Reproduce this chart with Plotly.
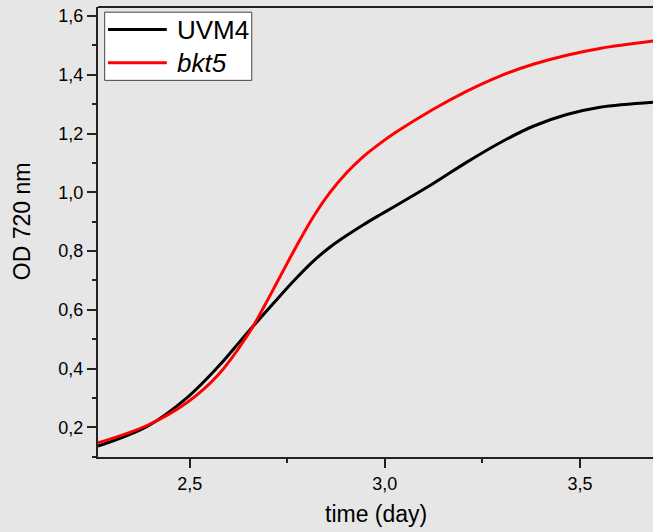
import plotly.graph_objects as go

# growth curves
time_uvm4 = [2.265, 2.392, 2.495, 2.572, 2.649, 2.721, 2.774, 2.816, 2.859, 2.902,
             2.944, 2.987, 3.030, 3.124, 3.209, 3.295, 3.380, 3.466, 3.551, 3.687]
od_uvm4 = [0.136, 0.204, 0.303, 0.405, 0.524, 0.632, 0.709, 0.765, 0.813, 0.853,
           0.889, 0.923, 0.956, 1.030, 1.102, 1.169, 1.225, 1.265, 1.290, 1.307]

time_bkt5 = [2.265, 2.392, 2.495, 2.572, 2.649, 2.692, 2.731, 2.774, 2.816, 2.859,
             2.902, 2.944, 2.987, 3.030, 3.124, 3.209, 3.295, 3.380, 3.466, 3.551, 3.687]
od_bkt5 = [0.147, 0.207, 0.286, 0.377, 0.515, 0.615, 0.712, 0.818, 0.915, 0.999,
           1.067, 1.121, 1.166, 1.206, 1.283, 1.344, 1.396, 1.436, 1.467, 1.490, 1.515]

series_names = ["UVM4", "<i>bkt5</i>"]
series_colors = ["black", "red"]

x_tickvals = [2.5, 3.0, 3.5]
x_ticktext = ["2,5", "3,0", "3,5"]
y_tickvals = [0.2, 0.4, 0.6, 0.8, 1.0, 1.2, 1.4, 1.6]
y_ticktext = ["0,2", "0,4", "0,6", "0,8", "1,0", "1,2", "1,4", "1,6"]

FONT = "Arial, Liberation Sans, sans-serif"
AXIS = "#222222"
BG = "#e6e6e6"

fig = go.Figure()

for xs, ys, name, color in [(time_uvm4, od_uvm4, series_names[0], series_colors[0]),
                            (time_bkt5, od_bkt5, series_names[1], series_colors[1])]:
    fig.add_trace(go.Scatter(
        x=xs, y=ys, mode="lines", name=name,
        line=dict(color=color, width=3, shape="spline", smoothing=1.0),
        showlegend=False
    ))

# top frame line
fig.add_shape(type="line", xref="paper", yref="paper", x0=0, x1=1, y0=1, y1=1,
              line=dict(color=AXIS, width=2))

# legend box drawn by hand (long line samples like the reference)
fig.add_shape(type="rect", xref="paper", yref="paper",
              x0=0.012, x1=0.277, y0=0.837, y1=0.9885,
              line=dict(color="#444444", width=1), fillcolor="white")
for i, (name, color) in enumerate(zip(series_names, series_colors)):
    yy = 0.950 - i * 0.074
    fig.add_shape(type="line", xref="paper", yref="paper",
                  x0=0.018, x1=0.124, y0=yy, y1=yy,
                  line=dict(color=color, width=3))
    fig.add_annotation(x=0.138, y=yy, xref="paper", yref="paper", text=name,
                       showarrow=False, xanchor="left", yanchor="middle",
                       font=dict(family=FONT, size=26, color="black"))

# axis titles
fig.add_annotation(x=0.50, y=-0.126, xref="paper", yref="paper", text="time (day)",
                   showarrow=False, xanchor="center", yanchor="middle",
                   font=dict(family=FONT, size=23, color="black"))
fig.add_annotation(x=-0.137, y=0.524, xref="paper", yref="paper", text="OD 720 nm",
                   showarrow=False, textangle=-90, xanchor="center", yanchor="middle",
                   font=dict(family=FONT, size=23, color="black"))

fig.update_layout(
    width=653, height=532,
    margin=dict(l=98, r=0, t=7, b=75),
    plot_bgcolor=BG, paper_bgcolor=BG,
    font=dict(family=FONT, size=18, color="black"),
    showlegend=False
)

fig.update_xaxes(
    range=[2.265, 3.687], showgrid=False, zeroline=False,
    showline=True, linecolor=AXIS, linewidth=2,
    ticks="outside", ticklen=9, tickwidth=2, tickcolor=AXIS,
    tickvals=x_tickvals, ticktext=x_ticktext,
    minor=dict(ticks="outside", ticklen=4, tickwidth=2, tickcolor=AXIS,
               tick0=2.25, dtick=0.25, showgrid=False)
)
fig.update_yaxes(
    range=[0.0989, 1.631], showgrid=False, zeroline=False,
    showline=True, linecolor=AXIS, linewidth=2,
    ticks="outside", ticklen=9, tickwidth=2, tickcolor=AXIS,
    tickvals=y_tickvals, ticktext=y_ticktext,
    minor=dict(ticks="outside", ticklen=4, tickwidth=2, tickcolor=AXIS,
               tick0=0.1, dtick=0.2, showgrid=False)
)

# drop the browser's default page margin so the figure sits at the corner
fig.write_html("out.html", config={"displayModeBar": False},
               post_script="document.body.style.margin='0';document.body.style.overflow='hidden';")
